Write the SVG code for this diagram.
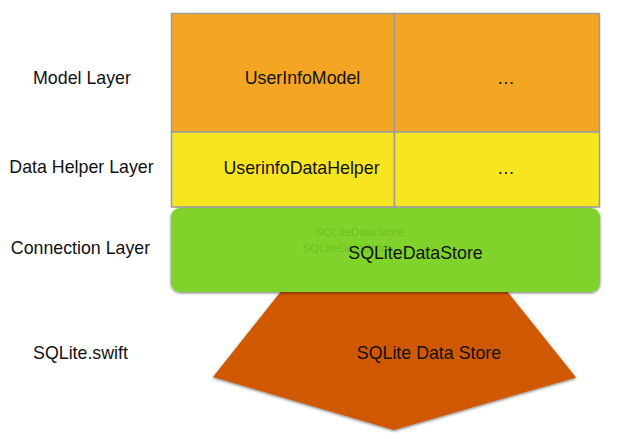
<svg xmlns="http://www.w3.org/2000/svg" width="643" height="439" viewBox="0 0 643 439">
<defs>
<style>
.lbl{font-family:"Liberation Sans",Arial,sans-serif;font-size:17.8px;fill:#111}
.cell{stroke:#9b9b9b;stroke-width:1.5}
.ghost{font-family:"Liberation Sans",Arial,sans-serif;font-size:11.8px;fill:#6fbf22}
</style>
<filter id="sh" x="-10%" y="-20%" width="120%" height="140%">
<feDropShadow dx="0" dy="1" stdDeviation="1.5" flood-color="#000" flood-opacity="0.55"/>
</filter>
</defs>
<rect width="643" height="439" fill="#fff"/>
<g id="labels">
<text class="lbl" x="82" y="84" text-anchor="middle">Model Layer</text>
<text class="lbl" x="81.5" y="173" text-anchor="middle">Data Helper Layer</text>
<text class="lbl" x="80.5" y="254" text-anchor="middle">Connection Layer</text>
<text class="lbl" x="80.5" y="359" text-anchor="middle">SQLite.swift</text>
</g>
<g id="sqlite-store">
<polygon points="290,280 498,280 576,377.5 394,430 213,377" fill="#cf5900" filter="url(#sh)"/>
<text class="lbl" x="429" y="359" text-anchor="middle">SQLite Data Store</text>
</g>
<g id="model-userinfo">
<rect class="cell" x="171.5" y="13.5" width="223" height="118.5" fill="#f4a623"/>
<text class="lbl" x="302.5" y="84" text-anchor="middle">UserInfoModel</text>
</g>
<g id="model-more">
<rect class="cell" x="394.5" y="13.5" width="205" height="118.5" fill="#f4a623"/>
<text class="lbl" x="506" y="84" text-anchor="middle">…</text>
</g>
<g id="helper-userinfo">
<rect class="cell" x="171.5" y="132" width="223" height="75" fill="#f8e520"/>
<text class="lbl" x="301.5" y="174" text-anchor="middle">UserinfoDataHelper</text>
</g>
<g id="helper-more">
<rect class="cell" x="394.5" y="132" width="205" height="75" fill="#f8e520"/>
<text class="lbl" x="506" y="174" text-anchor="middle">…</text>
</g>
<g id="connection">
<rect x="171" y="208" width="429" height="84" rx="9" fill="#80d32b" filter="url(#sh)"/>
<text class="ghost" x="315" y="236">SQLiteDataStore</text>
<text class="ghost" x="302.5" y="252">SQLiteDataStore</text>
<text class="lbl" x="415.5" y="259" text-anchor="middle">SQLiteDataStore</text>
</g>
<g id="connectors"/>
</svg>
